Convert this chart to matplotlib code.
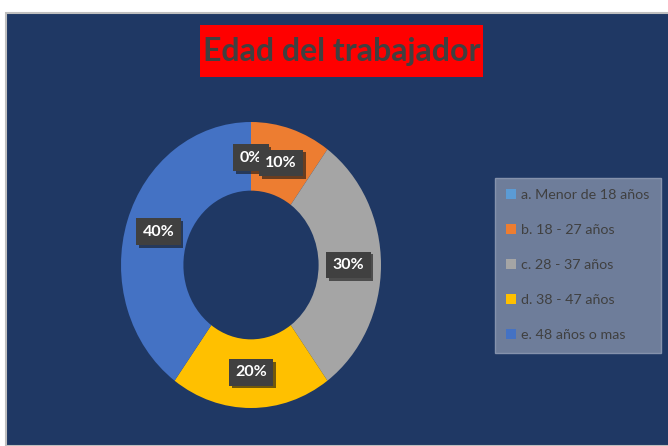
import matplotlib.pyplot as plt
from matplotlib.patches import Rectangle, Patch
import matplotlib.patheffects as pe

# datos
categorias = ['a. Menor de 18 años', 'b. 18 - 27 años', 'c. 28 - 37 años',
              'd. 38 - 47 años', 'e. 48 años o mas']
valores = [0, 10, 30, 20, 40]
colores = ['#5B9BD5', '#ED7D31', '#A5A5A5', '#FFC000', '#4472C4']
titulo = 'Edad del trabajador'

plt.rcParams['font.family'] = ['Lato', 'DejaVu Sans']

W, H = 668, 446
fig = plt.figure(figsize=(W / 100, H / 100), dpi=100)
fig.patch.set_facecolor('white')

# fondo azul con borde gris
fig.patches.append(Rectangle((6 / W, 0), 1, (H - 13) / H, transform=fig.transFigure,
                             facecolor='#1F3864', edgecolor='#BFBFBF', linewidth=1.5, zorder=-10))

# titulo en caja roja
fig.patches.append(Rectangle((200 / W, (H - 77) / H), 283 / W, 52 / H, transform=fig.transFigure,
                             facecolor='#FF0000', edgecolor='none', zorder=-5))
fig.text(341.5 / W, (H - 52) / H, titulo, ha='center', va='center',
         fontsize=23, fontweight='bold', color='#404040', zorder=2)

# dona
cx, cy, rx, ry = 251, 265, 130, 143
ax = fig.add_axes([(cx - rx) / W, (H - cy - ry) / H, 2 * rx / W, 2 * ry / H])
ax.set_facecolor('none')
wedges, textos, autotextos = ax.pie(valores, colors=colores, startangle=90, counterclock=False,
                                    autopct=lambda p: '%d%%' % round(p), pctdistance=0.75,
                                    wedgeprops=dict(width=0.48, edgecolor='none'),
                                    textprops=dict(color='white', fontsize=11.5, fontweight='bold'))
ax.set_aspect('auto')
ax.set_xlim(-1, 1)
ax.set_ylim(-1, 1)
ax.axis('off')
for t in autotextos:
    t.set_bbox(dict(boxstyle='square,pad=0.4', facecolor='#404040', edgecolor='none'))
    t.get_bbox_patch().set_path_effects([pe.SimplePatchShadow(offset=(2, -2), alpha=0.6), pe.Normal()])

# leyenda
handles = [Patch(facecolor=c, edgecolor='none') for c in colores]
leg = fig.legend(handles, categorias, loc='upper left', bbox_to_anchor=(495 / W, (H - 178) / H),
                 frameon=True, fancybox=False, fontsize=10.3, labelcolor='#404040',
                 handlelength=0.7, handleheight=0.7, handletextpad=0.3,
                 labelspacing=1.6, borderpad=0.8, borderaxespad=0)
leg.get_frame().set_facecolor('#6E7D9A')
leg.get_frame().set_edgecolor('#8592AC')
leg.get_frame().set_alpha(1)

fig.savefig('out.png', dpi=100, facecolor=fig.get_facecolor())
